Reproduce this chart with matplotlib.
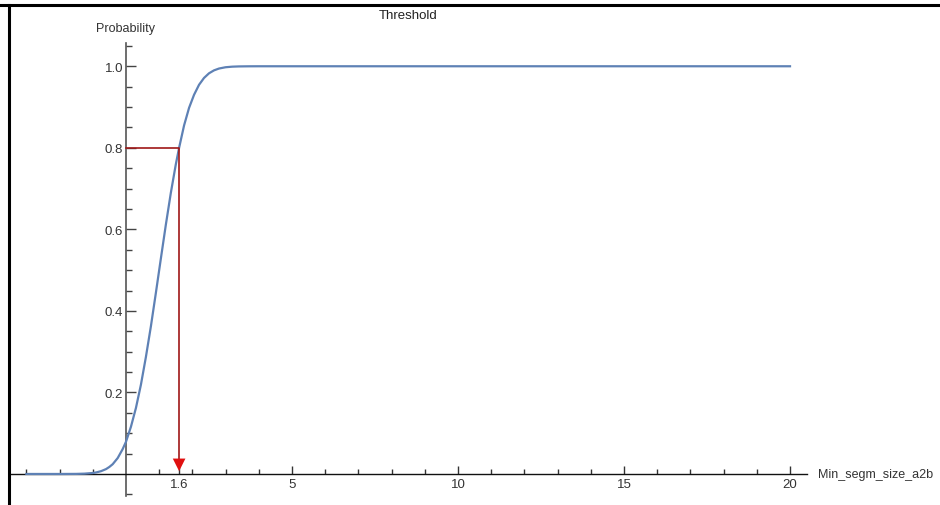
import numpy as np
import matplotlib
matplotlib.use('Agg')
import matplotlib.pyplot as plt
from matplotlib.lines import Line2D
from matplotlib.ticker import FixedLocator, FixedFormatter

# values
size_x = [-3.0, -2.0, -1.5, -1.25, -1.0, -0.9, -0.75, -0.6, -0.5, -0.4, -0.25, -0.1, 0.0,
          0.15, 0.3, 0.45, 0.6, 0.75, 0.9, 1.05, 1.2, 1.35, 1.5, 1.6, 1.75, 1.9, 2.05,
          2.2, 2.35, 2.5, 2.65, 2.8, 3.0, 3.2, 3.4, 3.7, 4.0, 5.0, 10.0, 15.0, 20.0]
prob_y = [0.0, 0.0, 0.0002, 0.0008, 0.0024, 0.0037, 0.0069, 0.012, 0.0173, 0.024, 0.039, 0.061, 0.079,
          0.116, 0.162, 0.219, 0.287, 0.362, 0.444, 0.528, 0.611, 0.689, 0.759, 0.80, 0.855, 0.898, 0.930,
          0.9545, 0.9713, 0.9827, 0.9899, 0.9944, 0.9976, 0.999, 0.9996, 0.9999, 1.0, 1.0, 1.0, 1.0, 1.0]

thr_x = 1.6
thr_p = 0.8

y_major = [0.2, 0.4, 0.6, 0.8, 1.0]
y_labels = ['0.2', '0.4', '0.6', '0.8', '1.0']
x_major = [1.6, 5, 10, 15, 20]
x_labels = ['1.6', '5', '10', '15', '20']

plt.rcParams['font.family'] = ['Liberation Sans', 'DejaVu Sans']

fig = plt.figure(figsize=(9.4, 5.06), dpi=100)
ax = fig.add_axes([0.0104, 0.017, 0.8477, 0.896])

ax.plot(size_x, prob_y, color='#5E81B5', lw=1.6, zorder=3)

# threshold guide
ax.plot([0, thr_x, thr_x], [thr_p, thr_p, 0.02], color='#A01818', lw=1.2, zorder=4)
ax.annotate('', xy=(thr_x, 0), xytext=(thr_x, 0.03),
            arrowprops=dict(arrowstyle='-|>,head_width=0.35,head_length=0.7',
                            color='#E01010', lw=0, mutation_scale=13), zorder=5)

ax.set_xlim(-3.5, 20.5)
ax.set_ylim(-0.055, 1.057)

for s in ['top', 'right']:
    ax.spines[s].set_visible(False)
ax.spines['left'].set_position(('data', 0))
ax.spines['bottom'].set_position(('data', 0))
ax.spines['left'].set_color('#555555')
ax.spines['bottom'].set_color('#111111')
ax.spines['left'].set_linewidth(1.2)
ax.spines['bottom'].set_linewidth(1.0)

ax.yaxis.set_major_locator(FixedLocator(y_major))
ax.yaxis.set_major_formatter(FixedFormatter(y_labels))
ax.yaxis.set_minor_locator(FixedLocator([v / 100 for v in range(-5, 106, 5) if v % 20 != 0]))
ax.xaxis.set_major_locator(FixedLocator(x_major))
ax.xaxis.set_major_formatter(FixedFormatter(x_labels))
ax.xaxis.set_minor_locator(FixedLocator([v for v in range(-3, 21) if v != 0 and v % 5 != 0]))

ax.tick_params(axis='y', which='major', direction='in', length=7, width=1, color='#444444',
               labelsize=9.5, labelcolor='#333333', pad=2)
ax.tick_params(axis='y', which='minor', direction='in', length=4, width=1, color='#444444')
ax.tick_params(axis='x', which='major', direction='in', length=6, width=1, color='#333333',
               labelsize=9.5, labelcolor='#333333', pad=3)
ax.tick_params(axis='x', which='minor', direction='in', length=3.5, width=1, color='#333333')

ax.text(0, 1.093, 'Probability', ha='center', va='center', fontsize=9, color='#333333')
ax.text(20.85, 0, 'Min_segm_size_a2b', ha='left', va='center', fontsize=9, color='#333333')
ax.text(8.5, 1.125, 'Threshold', ha='center', va='center', fontsize=9.5, color='#222222')

# frame lines on top and left
fig.add_artist(Line2D([0.0, 1.0], [0.9885, 0.9885], transform=fig.transFigure, color='black', lw=2.2))
fig.add_artist(Line2D([0.0101, 0.0101], [0.0, 0.9885], transform=fig.transFigure, color='black', lw=2.2))

fig.savefig('out.png', dpi=100)
